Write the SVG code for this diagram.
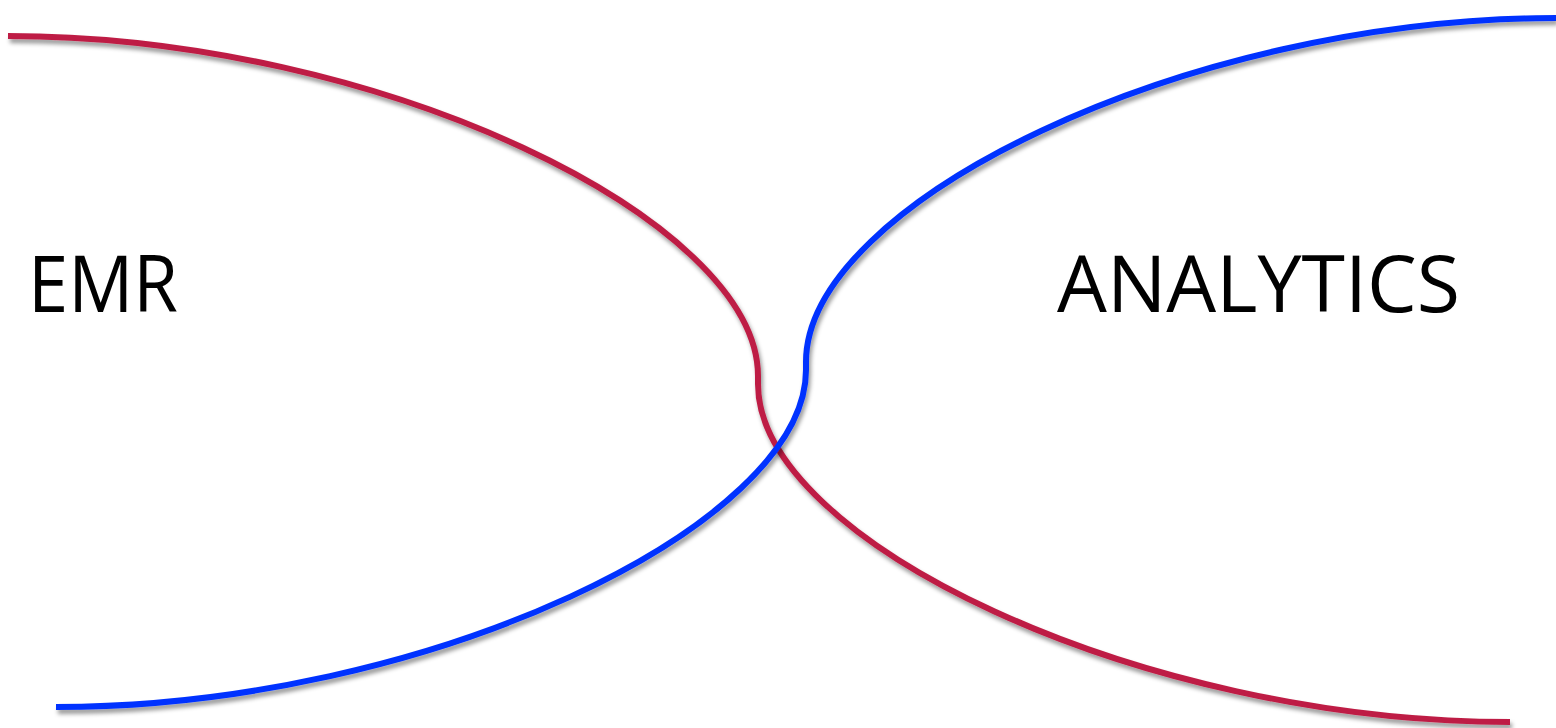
<svg xmlns="http://www.w3.org/2000/svg" width="1556" height="728" viewBox="0 0 1556 728">
<defs>
<filter id="sh" x="-10%" y="-10%" width="120%" height="130%">
<feDropShadow dx="2" dy="4" stdDeviation="2" flood-color="#000" flood-opacity="0.4"/>
</filter>
<style>
.red{fill:none;stroke:#be1e45;stroke-width:6;filter:url(#sh)}
.blue{fill:none;stroke:#0033ff;stroke-width:6;filter:url(#sh)}
.lbl{font-family:"Open Sans","Liberation Sans",sans-serif;font-size:78px;fill:#000}
</style>
</defs>
<rect width="1556" height="728" fill="#fff"/>
<g id="connectors">
<path class="red" d="M8,36 C380,36 758,220 758,376 L758,384 C758,540 1138,722 1510,722"/>
<path class="blue" d="M1556,18 C1184,18 806,204 806,362 L806,370 C806,525 428,707 56,707"/>
</g>
<g id="emr"><text class="lbl" x="28" y="312" textLength="150" lengthAdjust="spacingAndGlyphs">EMR</text></g>
<g id="analytics"><text class="lbl" x="1057" y="312" textLength="403" lengthAdjust="spacingAndGlyphs">ANALYTICS</text></g>
</svg>
